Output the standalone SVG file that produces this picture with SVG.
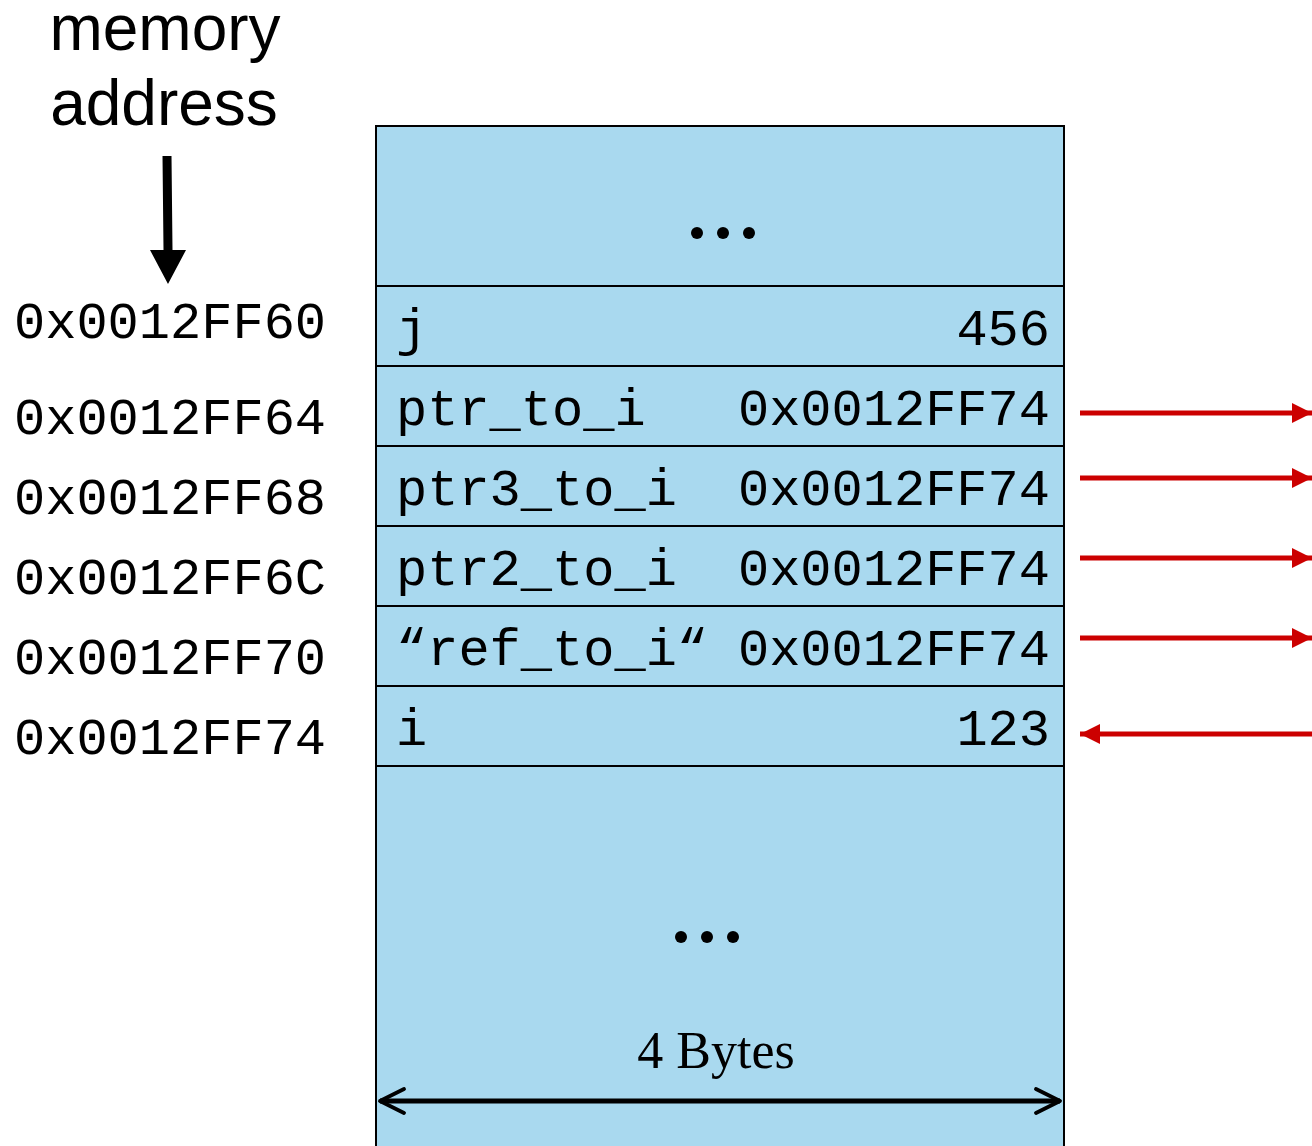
<svg xmlns="http://www.w3.org/2000/svg" width="1312" height="1146" viewBox="0 0 1312 1146">
<style>
.mono{font-family:"Liberation Mono","Courier New",monospace;font-size:52px;fill:#000}
.cell{fill:#A9D9EF;stroke:#000;stroke-width:2}
.red{stroke:#CC0000;stroke-width:5;fill:none}
.dot{fill:#000}
</style>
<defs>
<marker id="rh" viewBox="0 0 10 10" refX="10" refY="5" markerWidth="4" markerHeight="4" orient="auto" markerUnits="strokeWidth">
<path d="M0,0 L10,5 L0,10 z" fill="#CC0000"/>
</marker>
<marker id="oh" viewBox="0 0 10 10" refX="9" refY="5" markerWidth="6" markerHeight="6" orient="auto-start-reverse" markerUnits="strokeWidth">
<path d="M1,1 L9,5 L1,9" fill="none" stroke="#000" stroke-width="1.3" stroke-linecap="round" stroke-linejoin="round"/>
</marker>
</defs>
<rect width="1312" height="1146" fill="#fff"/>

<g id="header">
<text x="165" y="50" font-family="Liberation Sans, Arial, sans-serif" font-size="64" text-anchor="middle">memory</text>
<text x="164" y="125" font-family="Liberation Sans, Arial, sans-serif" font-size="64" text-anchor="middle">address</text>
<polygon points="162.5,156 171.5,156 172.5,250 186,250 168,284 150,250 163.5,250" fill="#000"/>
</g>

<g id="memory-top">
<rect class="cell" x="376" y="126" width="688" height="160"/>
<circle class="dot" cx="697" cy="233" r="6"/><circle class="dot" cx="723" cy="233" r="6"/><circle class="dot" cx="749" cy="233" r="6"/>
</g>

<g id="row-j">
<rect class="cell" x="376" y="286" width="688" height="80"/>
<text class="mono" x="396" y="345">j</text>
<text class="mono" x="1050" y="345" text-anchor="end">456</text>
<text class="mono" x="14" y="338">0x0012FF60</text>
</g>

<g id="row-ptr_to_i">
<rect class="cell" x="376" y="366" width="688" height="80"/>
<text class="mono" x="396" y="425">ptr_to_i</text>
<text class="mono" x="1050" y="425" text-anchor="end">0x0012FF74</text>
<text class="mono" x="14" y="434">0x0012FF64</text>
</g>

<g id="row-ptr3_to_i">
<rect class="cell" x="376" y="446" width="688" height="80"/>
<text class="mono" x="396" y="505">ptr3_to_i</text>
<text class="mono" x="1050" y="505" text-anchor="end">0x0012FF74</text>
<text class="mono" x="14" y="514">0x0012FF68</text>
</g>

<g id="row-ptr2_to_i">
<rect class="cell" x="376" y="526" width="688" height="80"/>
<text class="mono" x="396" y="585">ptr2_to_i</text>
<text class="mono" x="1050" y="585" text-anchor="end">0x0012FF74</text>
<text class="mono" x="14" y="594">0x0012FF6C</text>
</g>

<g id="row-ref_to_i">
<rect class="cell" x="376" y="606" width="688" height="80"/>
<text class="mono" x="396" y="665">“ref_to_i“</text>
<text class="mono" x="1050" y="665" text-anchor="end">0x0012FF74</text>
<text class="mono" x="14" y="674">0x0012FF70</text>
</g>

<g id="row-i">
<rect class="cell" x="376" y="686" width="688" height="80"/>
<text class="mono" x="396" y="745">i</text>
<text class="mono" x="1050" y="745" text-anchor="end">123</text>
<text class="mono" x="14" y="754">0x0012FF74</text>
</g>

<g id="memory-bottom">
<rect class="cell" x="376" y="766" width="688" height="390"/>
<circle class="dot" cx="681" cy="937" r="6"/><circle class="dot" cx="707" cy="937" r="6"/><circle class="dot" cx="733" cy="937" r="6"/>
<text x="716" y="1068" font-family="Liberation Serif, Times New Roman, serif" font-size="52" text-anchor="middle">4 Bytes</text>
</g>

<g id="connectors">
<line class="red" x1="1080" y1="413" x2="1312" y2="413" marker-end="url(#rh)"/>
<line class="red" x1="1080" y1="478" x2="1312" y2="478" marker-end="url(#rh)"/>
<line class="red" x1="1080" y1="558" x2="1312" y2="558" marker-end="url(#rh)"/>
<line class="red" x1="1080" y1="638" x2="1312" y2="638" marker-end="url(#rh)"/>
<line class="red" x1="1312" y1="734" x2="1080" y2="734" marker-end="url(#rh)"/>
<line x1="380" y1="1101" x2="1060" y2="1101" stroke="#000" stroke-width="5" marker-start="url(#oh)" marker-end="url(#oh)"/>
</g>
</svg>
